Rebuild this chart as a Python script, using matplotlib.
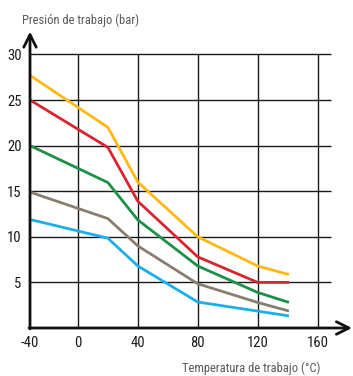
import numpy as np
import matplotlib
matplotlib.use('Agg')
import matplotlib.pyplot as plt
from matplotlib import font_manager

# fuente estrecha si existe
disponibles = {f.name for f in font_manager.fontManager.ttflist}
fuente = 'DejaVu Sans'
for nombre in ['Liberation Sans Narrow', 'Roboto Condensed', 'Open Sans Condensed',
               'DejaVu Sans Condensed', 'Roboto']:
    if nombre in disponibles:
        fuente = nombre
        break
plt.rcParams['font.family'] = [fuente, 'DejaVu Sans']

# temperatura (°C) y presión (bar)
temp = [-40, 20, 40, 80, 120, 140]
p_amarillo = [27.7, 22.0, 16.0, 10.0, 6.8, 5.9]
p_rojo = [25.0, 19.8, 13.9, 7.8, 5.0, 5.0]
p_verde = [20.0, 15.95, 11.85, 6.8, 3.9, 2.85]
p_gris = [14.9, 12.0, 9.0, 4.85, 2.8, 1.9]
p_azul = [11.9, 9.85, 6.8, 2.85, 1.85, 1.35]

xticks = [-40, 0, 40, 80, 120, 160]
yticks = [5, 10, 15, 20, 25, 30]

series = [
    (p_amarillo, '#fdb913'),
    (p_rojo, '#d7262f'),
    (p_verde, '#1a9146'),
    (p_gris, '#8a7d70'),
    (p_azul, '#1aafe8'),
]

W, H = 353, 376
fig = plt.figure(figsize=(W / 100, H / 100), dpi=100)
ax = fig.add_axes([30 / W, 48 / H, 322 / W, (328 - 31.6) / H])

# el tramo -40..0 está comprimido en el original
def fwd(x):
    x = np.asarray(x, dtype=float)
    return np.where(x < 0, x * 0.8, x)

def inv(u):
    u = np.asarray(u, dtype=float)
    return np.where(u < 0, u / 0.8, u)

ax.set_xscale('function', functions=(fwd, inv))
ax.set_xlim(-40, 183)
ax.set_ylim(0, 32.5)

# rejilla
ax.hlines(yticks, -40, 169, colors='#1a1a1a', lw=1.0, zorder=1)
ax.vlines(xticks[1:], 0, 30, colors='#1a1a1a', lw=1.0, zorder=1)

for vals, c in series:
    ax.plot(temp, vals, color=c, lw=2.0, zorder=3, solid_joinstyle='miter')

for s in ax.spines.values():
    s.set_visible(False)

arrow = dict(arrowstyle='->,head_length=0.9,head_width=0.45', lw=2.0,
             color='#111111', shrinkA=0, shrinkB=0, mutation_scale=10)
ax.annotate('', xy=(0, 1), xytext=(0, -0.003), xycoords='axes fraction',
            arrowprops=arrow, zorder=5)
ax.annotate('', xy=(1, 0), xytext=(-0.003, 0), xycoords='axes fraction',
            arrowprops=arrow, zorder=5)

ax.set_xticks(xticks)
ax.set_xticklabels([str(t) for t in xticks])
ax.set_yticks(yticks)
ax.set_yticklabels([str(t) for t in yticks])
ax.tick_params(length=0, labelsize=10.5, colors='#1a1a1a')
ax.tick_params(axis='y', pad=6)
ax.tick_params(axis='x', pad=6)

fig.text(22 / W, 1 - 20 / H, 'Presión de trabajo (bar)', fontsize=9,
         color='#5a5a5a', ha='left', va='center')
fig.text(182 / W, 1 - 368 / H, 'Temperatura de trabajo (°C)', fontsize=9,
         color='#5a5a5a', ha='left', va='center')

fig.savefig('out.png', dpi=100)
